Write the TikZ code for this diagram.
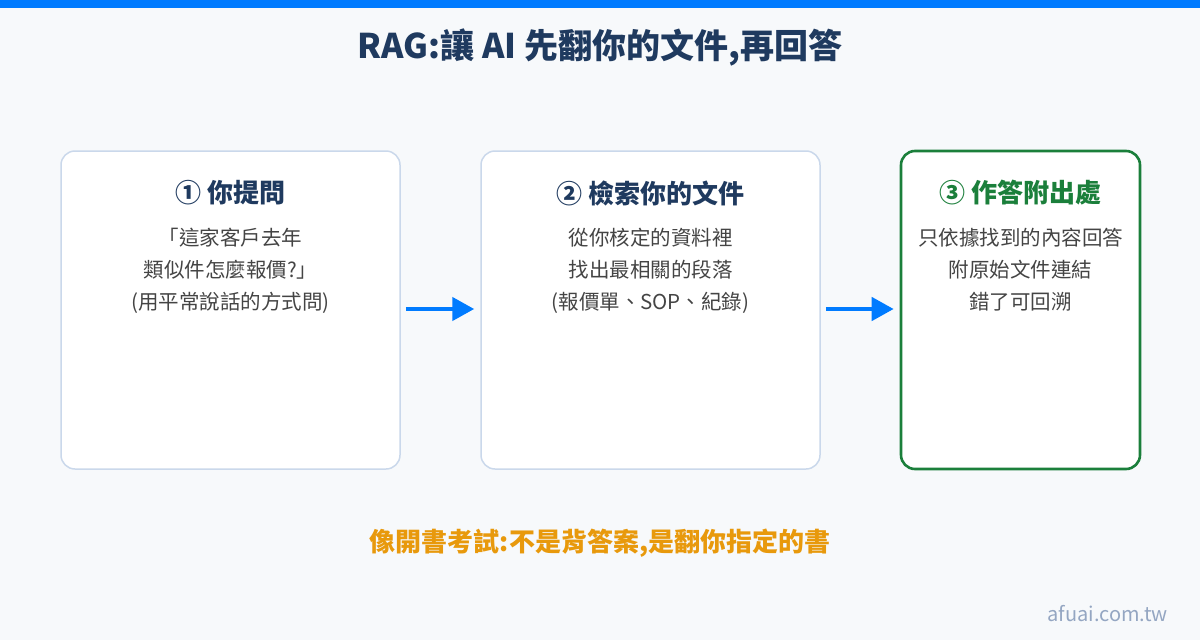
\documentclass[tikz,border=0pt]{standalone}
\usepackage{fontspec}
\setmainfont{Noto Sans CJK TC}
\usetikzlibrary{arrows.meta}
\definecolor{bgc}{HTML}{F7F9FB}
\definecolor{topbar}{HTML}{007BFF}
\definecolor{navy}{HTML}{1F3A5F}
\definecolor{bodyc}{HTML}{444444}
\definecolor{greenc}{HTML}{1B7F3B}
\definecolor{orangec}{HTML}{E8990C}
\definecolor{markc}{HTML}{94A6C2}
\definecolor{boxline}{HTML}{CAD8EB}
\tikzset{
  card/.style={draw=boxline, line width=1.5pt, fill=white, rounded corners=14pt, inner sep=0pt},
  cardgreen/.style={draw=greenc, line width=2.6pt, fill=white, rounded corners=14pt, inner sep=0pt},
  heading/.style={font=\fontsize{26}{30}\selectfont\bfseries, text=navy, inner sep=0pt},
  bodytext/.style={font=\fontsize{20.5}{24}\selectfont, text=bodyc, inner sep=0pt, anchor=base},
  flow/.style={draw=topbar, line width=4.5pt, -{Triangle[length=22pt,width=23pt]}}
}
\begin{document}
\begin{tikzpicture}[x=1pt,y=-1pt]
\fill[bgc] (0,0) rectangle (1200,640);
\fill[topbar] (0,0) rectangle (1200,8);
\node[font=\fontsize{34}{40}\selectfont\bfseries, text=navy, inner sep=0pt] (title) at (600,47) {RAG:讓 AI 先翻你的文件,再回答};

\node[card, minimum width=339pt, minimum height=318pt] (b1) at (230.5,310) {};
\node[card, minimum width=339pt, minimum height=318pt] (b2) at (650.5,310) {};
\node[cardgreen, minimum width=239pt, minimum height=318pt] (b3) at (1020.5,310) {};

\node[heading] (h1) at (230.5,193) {① 你提問};
\node[heading] (h2) at (650.5,193) {② 檢索你的文件};
\node[heading, text=greenc] (h3) at (1020.5,193) {③ 作答附出處};

\node[bodytext] (t1a) at (230.5,245) {「這家客戶去年};
\node[bodytext] (t1b) at (230.5,277) {類似件怎麼報價?」};
\node[bodytext] (t1c) at (230.5,309) {(用平常說話的方式問)};
\node[bodytext] (t2a) at (650.5,245) {從你核定的資料裡};
\node[bodytext] (t2b) at (650.5,277) {找出最相關的段落};
\node[bodytext] (t2c) at (650.5,309) {(報價單、SOP、紀錄)};
\node[bodytext] (t3a) at (1020.5,245) {只依據找到的內容回答};
\node[bodytext] (t3b) at (1020.5,277) {附原始文件連結};
\node[bodytext] (t3c) at (1020.5,309) {錯了可回溯};

\draw[flow] ([xshift=5pt,yshift=1pt]b1.east) -- ([xshift=-6pt,yshift=1pt]b2.west);
\draw[flow] ([xshift=5pt,yshift=1pt]b2.east) -- ([xshift=-6pt,yshift=1pt]b3.west);

\node[font=\fontsize{26}{30}\selectfont\bfseries, text=orangec, inner sep=0pt] (note) at (600,543) {像開書考試:不是背答案,是翻你指定的書};
\node[font=\fontsize{20}{24}\selectfont, text=markc, inner sep=0pt, anchor=east] (mark) at (1168,614) {afuai.com.tw};
\end{tikzpicture}
\end{document}
